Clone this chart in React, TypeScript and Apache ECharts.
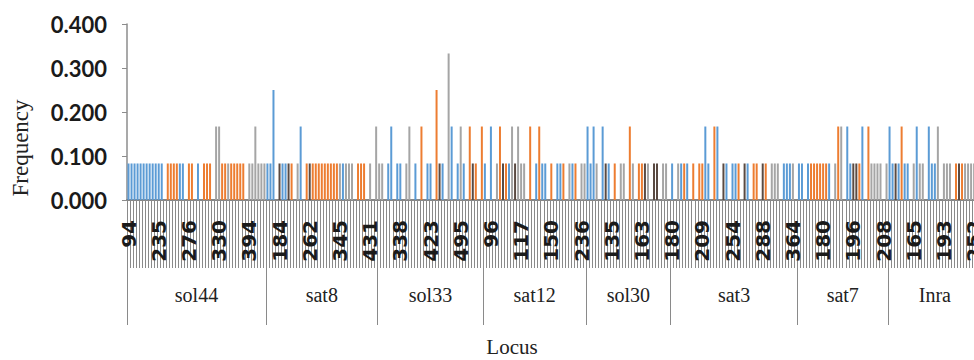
import React, { useEffect, useRef } from "react";
import * as echarts from "echarts";

// Loci (outer category level)
const loci = ["sol44", "sat8", "sol33", "sat12", "sol30", "sat3", "sat7", "Inra"];

// Alleles per locus: population letter (B blue, O orange, G gray, D dark) + allele count level (1 default)
// "." = no bar for that allele slot
const sol44 = "B B B B B B B B B B B B . O O O O B B . O O . B . O O O . G2 G2 O O G O O O O O . G G G2 G G G";
const sat8 = "B B B3 . D B B D O . G B2 . O D O O O O O O O O O G B G G G . O O O . G . G2";
const sol33 = "G G . B B2 . B B . G G2 . B . O2 . B B . O3 D B . G4 B2 . B G2 B . O2 D O . O2";
const sat12 = "B . B2 . G O2 D O B G2 D G2 G G . O2 . B O2 B B . O . B B O . G B O . G G";
const sol30 = "B2 B B2 G . B2 D B . O . G G . O2 G . O O D G . D D . G G .";
const sat3 = "B . G B O B . O . O O B2 B . O2 B2 . D B . B B O . D B . O O . D O . G G G . B B B G .";
const sat7 = "B B . B O O O O O O B . G O2 G2 . B2 B D D O B2 . O2 G G G G . G";
const inra = "B2 B D B O2 B B . G B2 G G . B2 B B G2 . G G G . O D O G G G G O G";
const alleleRows = [sol44, sat8, sol33, sat12, sol30, sat3, sat7, inra];

// Frequency for each level
const freqLevels = [0, 0.083, 0.167, 0.25, 0.333];

// Tick labels shown every 10th allele
const tickLabels = [
  "94", "235", "276", "330", "394", "184", "262", "345", "431", "338",
  "423", "495", "96", "117", "150", "236", "135", "163", "180", "209",
  "254", "288", "364", "180", "196", "208", "165", "193", "252",
];

const popCodes = ["B", "O", "G", "D"];
const popColors: Record<string, string> = {
  B: "#5B9BD5",
  O: "#ED7D31",
  G: "#A5A5A5",
  D: "#5A4A42",
};

const SLOT = 3.02;

export default function App() {
  const ref = useRef<HTMLDivElement>(null);

  useEffect(() => {
    document.body.style.margin = "0";
    document.body.style.overflow = "hidden";
    const chart = echarts.init(ref.current!, null, { renderer: "svg" });

    const cats: string[] = [];
    const codes: string[] = [];
    const levels: number[] = [];
    const bounds: number[] = [0];
    loci.forEach((name, li) => {
      const toks = alleleRows[li].trim().split(/\s+/);
      toks.forEach((t, k) => {
        cats.push(`${name}-${k + 1}`);
        codes.push(t[0]);
        levels.push(t === "." ? 0 : Number(t.slice(1) || "1"));
      });
      bounds.push(cats.length);
    });
    const N = cats.length;
    const mids = loci.map((_, i) => (bounds[i] + bounds[i + 1]) / 2);

    const series = popCodes.map((code) => ({
      type: "bar",
      name: code,
      barWidth: 2,
      barGap: "-100%",
      itemStyle: { color: popColors[code] },
      data: codes.map((c, i) => (c === code && levels[i] > 0 ? freqLevels[levels[i]] : null)),
    }));

    chart.setOption({
      animation: false,
      backgroundColor: "#ffffff",
      grid: { left: 127, top: 24, width: N * SLOT, height: 176 },
      xAxis: [
        {
          type: "category",
          data: cats,
          axisLine: { show: true, lineStyle: { color: "#5f5f5f", width: 1.5 } },
          axisTick: { show: true, interval: 0, length: 68, lineStyle: { color: "#8a8a8a", width: 1 } },
          axisLabel: {
            interval: 9,
            rotate: 90,
            margin: 20,
            fontFamily: "DejaVu Sans",
            fontWeight: "bold",
            fontSize: 20,
            color: "#1a1a1a",
            formatter: (_v: string, idx: number) => tickLabels[idx / 10] ?? "",
          },
          splitLine: { show: false },
        },
        {
          type: "value",
          min: 0,
          max: N,
          position: "bottom",
          offset: 68,
          axisLine: { show: false },
          splitLine: { show: false },
          axisTick: {
            show: true,
            customValues: bounds,
            length: 57,
            lineStyle: { color: "#8a8a8a", width: 1 },
          },
          axisLabel: {
            customValues: mids,
            margin: 17,
            fontFamily: "Liberation Serif",
            fontSize: 20,
            color: "#222",
            formatter: (v: number) => loci[mids.indexOf(v)] ?? "",
          },
        },
      ],
      yAxis: {
        type: "value",
        min: 0,
        max: 0.4,
        interval: 0.1,
        axisLine: { show: true, lineStyle: { color: "#8c8c8c", width: 1.5 } },
        axisTick: { show: true, length: 5, lineStyle: { color: "#8c8c8c" } },
        splitLine: { show: false },
        axisLabel: {
          margin: 20,
          fontFamily: "Lato",
          fontWeight: "bold",
          fontSize: 22,
          color: "#1a1a1a",
          formatter: (v: number) => v.toFixed(3),
        },
      },
      graphic: [
        {
          type: "text",
          x: 20,
          y: 148,
          rotation: Math.PI / 2,
          style: {
            text: "Frequency",
            font: '23px "Liberation Serif"',
            fill: "#222",
            align: "center",
            verticalAlign: "middle",
            textAlign: "center",
            textVerticalAlign: "middle",
          },
        },
        {
          type: "text",
          x: 512,
          y: 347,
          style: {
            text: "Locus",
            font: '21px "Liberation Serif"',
            fill: "#222",
            align: "center",
            verticalAlign: "middle",
            textAlign: "center",
            textVerticalAlign: "middle",
          },
        },
      ],
      series,
    });

    return () => chart.dispose();
  }, []);

  return <div ref={ref} style={{ position: "fixed", left: 0, top: 0, width: 1000, height: 360 }} />;
}
